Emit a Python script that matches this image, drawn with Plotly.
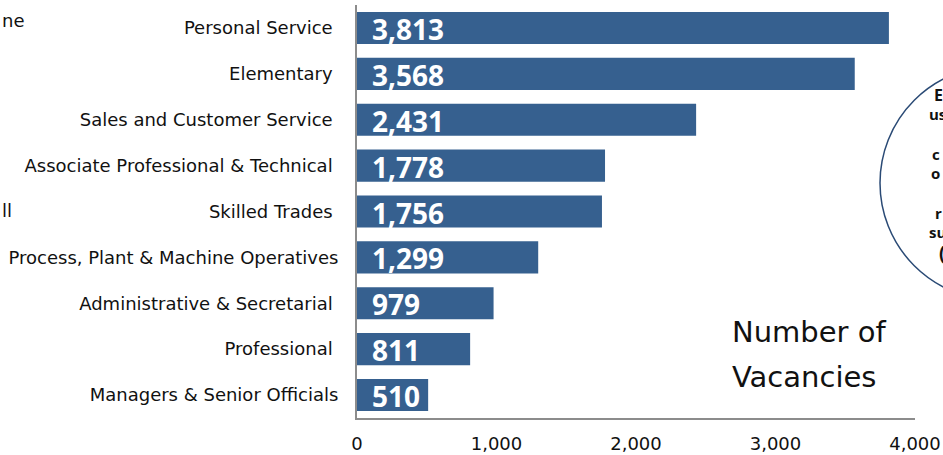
import plotly.graph_objects as go

categories = [
    "Personal Service",
    "Elementary",
    "Sales and Customer Service",
    "Associate Professional & Technical",
    "Skilled Trades",
    "Process, Plant & Machine Operatives",
    "Administrative & Secretarial",
    "Professional",
    "Managers & Senior Officials",
]
# labels that carry a trailing space in the original
trailing_space = [True, True, True, True, True, False, True, True, False]
vacancies = [3813, 3568, 2431, 1778, 1756, 1299, 979, 811, 510]
x_ticks = [0, 1000, 2000, 3000, 4000]
x_tick_labels = ["0", "1,000", "2,000", "3,000", "4,000"]

labels = [c + ("\u00a0" if t else "") for c, t in zip(categories, trailing_space)]

BAR = "#36608f"
LABEL_FONT = "DejaVu Sans"

W, H = 943, 455
L, R, T, B = 357, 28, 5, 37
pw, ph = W - L - R, H - T - B


def px(x):
    return (x - L) / pw


def py(y):
    return 1 - (y - T) / ph


fig = go.Figure()
fig.add_trace(go.Bar(
    y=labels, x=vacancies, orientation="h",
    marker=dict(color=BAR, line=dict(width=0)),
    width=0.7, hoverinfo="skip",
))

for lab, v in zip(labels, vacancies):
    fig.add_annotation(
        x=0, y=lab, xref="x", yref="y", text=f"<b>{v:,}</b>",
        showarrow=False, xanchor="left", yanchor="middle", xshift=13, yshift=-1,
        font=dict(family="Open Sans", size=28, color="white"),
    )

for t, fy in [("Number of", 332), ("Vacancies", 377)]:
    fig.add_annotation(
        x=px(730), y=py(fy), xref="paper", yref="paper", text=t,
        showarrow=False, xanchor="left", yanchor="middle", align="left",
        font=dict(family=LABEL_FONT, size=29, color="#111111"),
    )

# partial circle at right edge (cropped)
fig.add_shape(type="circle", xref="paper", yref="paper",
              x0=px(880), x1=px(1114), y0=py(300), y1=py(66),
              line=dict(color="#2a4a75", width=1.5), fillcolor="rgba(0,0,0,0)")

frags = [("E", 932, 95, 16), ("us", 927, 114, 15), ("c", 930, 154, 15), ("o", 929, 173, 15),
         ("r", 933, 213, 15), ("su", 927, 232, 15), ("(", 937, 253, 19)]
for t, fx, fy, fs in frags:
    fig.add_annotation(x=px(fx), y=py(fy), xref="paper", yref="paper", text=f"<b>{t}</b>",
                       showarrow=False, xanchor="left", yanchor="middle",
                       font=dict(family="Open Sans", size=fs, color="#111111"))

# cropped text fragments on the left
for t, fx, fy in [("ne", 0, 20), ("ll", 0, 210)]:
    fig.add_annotation(x=px(fx), y=py(fy), xref="paper", yref="paper", text=t,
                       showarrow=False, xanchor="left", yanchor="middle",
                       font=dict(family=LABEL_FONT, size=18, color="#111111"))

fig.update_layout(
    width=W, height=H,
    margin=dict(l=L, r=R, t=T, b=B, autoexpand=False),
    plot_bgcolor="white", paper_bgcolor="white",
    showlegend=False,
    xaxis=dict(range=[0, 4000], tickvals=x_ticks, ticktext=x_tick_labels, automargin=False,
               showgrid=False, zeroline=False, showline=True, linecolor="#8c8c8c",
               linewidth=2, ticks="outside", ticklen=8, tickcolor="rgba(0,0,0,0)",
               tickfont=dict(family=LABEL_FONT, size=18, color="#111111")),
    yaxis=dict(autorange="reversed", showgrid=False, zeroline=False, showline=True,
               automargin=False,
               linecolor="#8c8c8c", linewidth=2, ticks="outside", ticklen=13,
               tickcolor="rgba(0,0,0,0)",
               tickfont=dict(family=LABEL_FONT, size=18, color="#111111")),
)

fig.write_html("out.html", config={"displayModeBar": False},
               post_script="document.body.style.margin='0';document.body.style.overflow='hidden';")
